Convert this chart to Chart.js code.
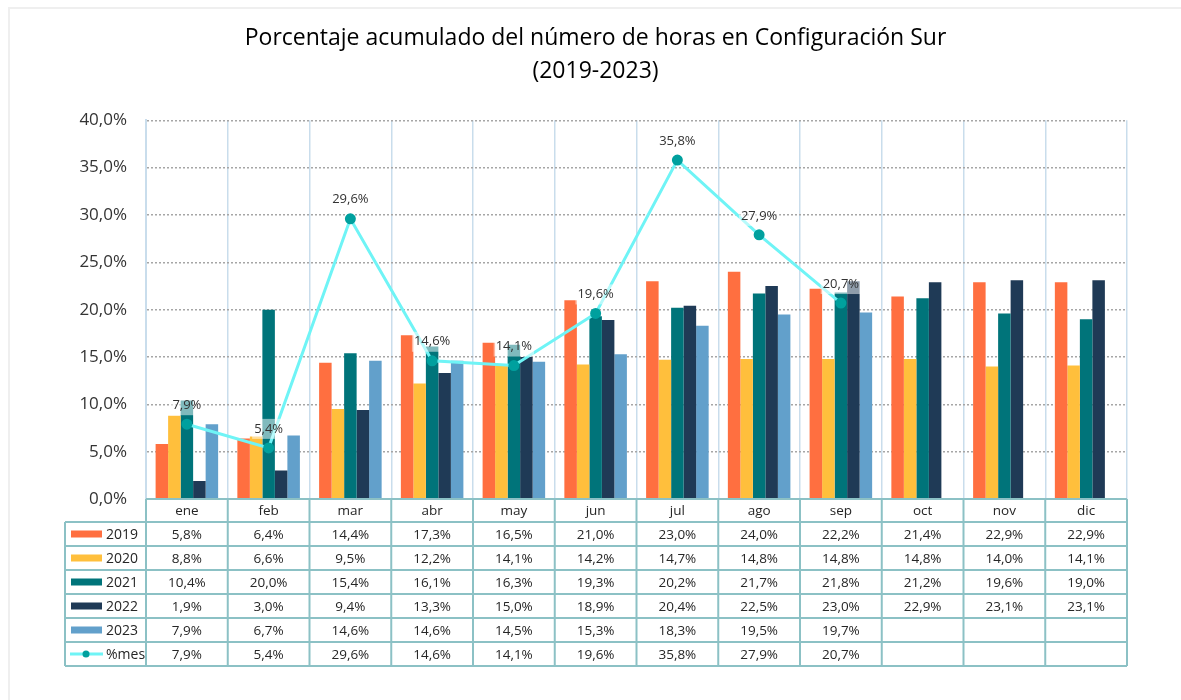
<!DOCTYPE html>
<html lang="es">
<head>
  <meta charset="UTF-8">
  <title>Configuración Sur</title>
  <script src="https://cdn.jsdelivr.net/npm/chart.js"></script>
  <style>
    body { margin: 0; background: #fff; }
    .wrap { position: relative; width: 1181px; height: 700px; overflow: hidden; }
    .frame { position: absolute; left: 8px; top: 7px; width: 1200px; height: 720px; border: 2px solid #efefef; }
    canvas { position: absolute; left: 0; top: 0; }
  </style>
</head>
<body>
  <div class="wrap">
    <div class="frame"></div>
    <canvas id="horasChart" width="1181" height="700"></canvas>
  </div>

  <script>
    // Datos
    const meses = ['ene', 'feb', 'mar', 'abr', 'may', 'jun', 'jul', 'ago', 'sep', 'oct', 'nov', 'dic'];
    const v2019 = [5.8, 6.4, 14.4, 17.3, 16.5, 21.0, 23.0, 24.0, 22.2, 21.4, 22.9, 22.9];
    const v2020 = [8.8, 6.6, 9.5, 12.2, 14.1, 14.2, 14.7, 14.8, 14.8, 14.8, 14.0, 14.1];
    const v2021 = [10.4, 20.0, 15.4, 16.1, 16.3, 19.3, 20.2, 21.7, 21.8, 21.2, 19.6, 19.0];
    const v2022 = [1.9, 3.0, 9.4, 13.3, 15.0, 18.9, 20.4, 22.5, 23.0, 22.9, 23.1, 23.1];
    const v2023 = [7.9, 6.7, 14.6, 14.6, 14.5, 15.3, 18.3, 19.5, 19.7, null, null, null];
    const pctMes = [7.9, 5.4, 29.6, 14.6, 14.1, 19.6, 35.8, 27.9, 20.7, null, null, null];
    const yTicks = [0, 5, 10, 15, 20, 25, 30, 35, 40];

    const fmt = v => v.toFixed(1).replace('.', ',') + '%';

    const barColors = ['#ff6f40', '#ffbf3c', '#00747a', '#1f3a56', '#62a0cb'];
    const lineColor = '#6ff4f6';
    const pointColor = '#00a09e';

    function barSet(label, data, color) {
      return { type: 'bar', label: label, data: data, backgroundColor: color, order: 1,
               barPercentage: 1, categoryPercentage: 0.765 };
    }

    // etiquetas de %mes con fondo semitransparente
    const mesLabels = {
      id: 'mesLabels',
      afterDatasetsDraw(chart) {
        const ctx = chart.ctx;
        const meta = chart.getDatasetMeta(5);
        ctx.save();
        ctx.font = '13px "Open Sans"';
        ctx.textAlign = 'center';
        ctx.textBaseline = 'middle';
        meta.data.forEach((pt, i) => {
          const v = pctMes[i];
          if (v == null) return;
          const txt = fmt(v);
          const w = ctx.measureText(txt).width;
          const y = pt.y - 19;
          ctx.fillStyle = 'rgba(255,255,255,0.5)';
          ctx.fillRect(pt.x - w / 2 - 2, y - 10, w + 4, 20);
          ctx.fillStyle = '#333';
          ctx.fillText(txt, pt.x, y);
        });
        ctx.restore();
      }
    };

    // tabla de datos bajo el gráfico
    const dataTable = {
      id: 'dataTable',
      afterDraw(chart) {
        const ctx = chart.ctx;
        const area = chart.chartArea;
        const colW = area.width / meses.length;
        const left0 = 65;
        const top = area.bottom;
        const headH = 23, rowH = 24;
        const rows = [
          { label: '2019', data: v2019, color: barColors[0] },
          { label: '2020', data: v2020, color: barColors[1] },
          { label: '2021', data: v2021, color: barColors[2] },
          { label: '2022', data: v2022, color: barColors[3] },
          { label: '2023', data: v2023, color: barColors[4] },
          { label: '%mes', data: pctMes, line: true }
        ];
        const bottom = top + headH + rows.length * rowH;

        ctx.save();
        ctx.strokeStyle = '#8cc1c5';
        ctx.lineWidth = 2;
        ctx.beginPath();
        ctx.moveTo(area.left, top); ctx.lineTo(area.right, top);
        for (let r = 0; r <= rows.length; r++) {
          const y = top + headH + r * rowH;
          ctx.moveTo(left0, y); ctx.lineTo(area.right, y);
        }
        ctx.moveTo(left0, top + headH); ctx.lineTo(left0, bottom);
        for (let c = 0; c <= meses.length; c++) {
          const x = area.left + c * colW;
          ctx.moveTo(x, top); ctx.lineTo(x, bottom);
        }
        ctx.stroke();

        ctx.font = '13.5px "Open Sans"';
        ctx.fillStyle = '#262626';
        ctx.textAlign = 'center';
        ctx.textBaseline = 'middle';
        meses.forEach((m, c) => {
          ctx.fillText(m, area.left + (c + 0.5) * colW, top + headH / 2 + 1);
        });
        rows.forEach((row, r) => {
          const yc = top + headH + r * rowH + rowH / 2 + 1;
          row.data.forEach((v, c) => {
            if (v == null) return;
            ctx.fillText(fmt(v), area.left + (c + 0.5) * colW, yc);
          });
        });

        // claves de la leyenda
        ctx.textAlign = 'left';
        ctx.font = '14px "Open Sans"';
        rows.forEach((row, r) => {
          const yc = top + headH + r * rowH + rowH / 2;
          if (row.line) {
            ctx.strokeStyle = lineColor;
            ctx.lineWidth = 3;
            ctx.beginPath();
            ctx.moveTo(70, yc); ctx.lineTo(103, yc);
            ctx.stroke();
            ctx.fillStyle = pointColor;
            ctx.beginPath();
            ctx.arc(86, yc, 3.5, 0, Math.PI * 2);
            ctx.fill();
          } else {
            ctx.fillStyle = row.color;
            ctx.fillRect(71, yc - 3.5, 31, 7);
          }
          ctx.fillStyle = '#262626';
          ctx.fillText(row.label, 106, yc + 1);
        });
        ctx.restore();
      }
    };

    new Chart(document.getElementById('horasChart'), {
      data: {
        labels: meses,
        datasets: [
          barSet('2019', v2019, barColors[0]),
          barSet('2020', v2020, barColors[1]),
          barSet('2021', v2021, barColors[2]),
          barSet('2022', v2022, barColors[3]),
          barSet('2023', v2023, barColors[4]),
          {
            type: 'line', label: '%mes', data: pctMes, order: 0,
            borderColor: lineColor, borderWidth: 3,
            pointBackgroundColor: pointColor, pointBorderColor: pointColor,
            pointRadius: 4, tension: 0, spanGaps: false
          }
        ]
      },
      options: {
        responsive: false,
        animation: false,
        layout: { padding: { left: 64, right: 54, bottom: 201, top: 0 } },
        plugins: {
          legend: { display: false },
          tooltip: { enabled: false },
          title: {
            display: true,
            text: ['Porcentaje acumulado del número de horas en Configuración Sur', '(2019-2023)'],
            color: '#000',
            font: { family: '"Open Sans"', size: 23, weight: 'normal', lineHeight: 1.42 },
            padding: { top: 22, bottom: 33 }
          }
        },
        scales: {
          x: {
            ticks: { display: false },
            grid: { color: '#c9ddec', lineWidth: 1.5, drawTicks: false, offset: true },
            border: { display: false }
          },
          y: {
            min: 0, max: 40,
            afterFit(scale) { scale.width = 82; },
            afterBuildTicks(scale) { scale.ticks = yTicks.map(v => ({ value: v })); },
            ticks: {
              padding: 19,
              color: '#333',
              font: { family: '"Open Sans"', size: 17 },
              callback: v => fmt(v)
            },
            grid: { color: '#a6a6a6', lineWidth: 1.5, drawTicks: false },
            border: { color: '#c9ddec', width: 2, dash: [2, 2] }
          }
        }
      },
      plugins: [mesLabels, dataTable]
    });
  </script>
</body>
</html>
